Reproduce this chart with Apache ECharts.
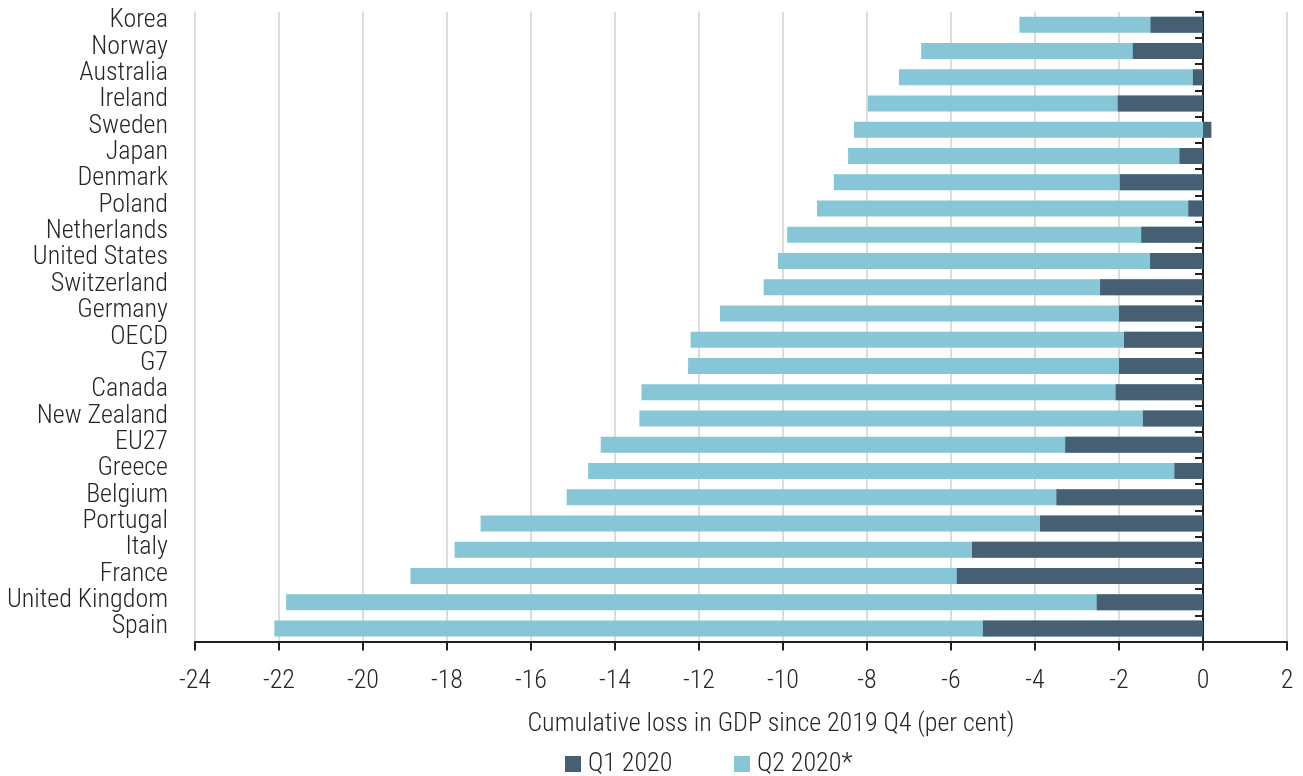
<!DOCTYPE html>
<html>
<head>
<meta charset="utf-8">
<script src="https://cdn.jsdelivr.net/npm/echarts@6/dist/echarts.min.js"></script>
<style>
html,body{margin:0;padding:0;background:#fff;}
#chart{width:1303px;height:776px;}
</style>
</head>
<body>
<div id="chart"></div>
<script>
var categories = ['Korea','Norway','Australia','Ireland','Sweden','Japan','Denmark','Poland','Netherlands','United States','Switzerland','Germany','OECD','G7','Canada','New Zealand','EU27','Greece','Belgium','Portugal','Italy','France','United Kingdom','Spain'];
var q1_2020 = [-1.25,-1.67,-0.24,-2.03,0.2,-0.56,-1.98,-0.35,-1.47,-1.26,-2.45,-2.0,-1.88,-2.0,-2.08,-1.43,-3.28,-0.68,-3.49,-3.88,-5.5,-5.86,-2.53,-5.24];
var q2_2020 = [-4.37,-6.71,-7.24,-7.98,-8.31,-8.45,-8.79,-9.19,-9.9,-10.12,-10.46,-11.5,-12.2,-12.26,-13.37,-13.42,-14.34,-14.64,-15.15,-17.2,-17.82,-18.87,-21.83,-22.11];
var seriesNames = ['Q1 2020','Q2 2020*'];
var axisTitle = 'Cumulative loss in GDP since 2019 Q4 (per cent)';

var FONT = "'Roboto Condensed','Liberation Sans Narrow','DejaVu Sans Condensed',sans-serif";
var FW = 300;
var TXT = '#262626';
var DARK = '#465f72';
var LIGHT = '#86c6d6';

var chart = echarts.init(document.getElementById('chart'), null, {renderer:'canvas'});
chart.setOption({
  animation:false,
  backgroundColor:'#ffffff',
  textStyle:{fontFamily:FONT, fontWeight:FW},
  grid:[
    {left:195, right:16, top:11.7, bottom:134.5, containLabel:false, outerBoundsMode:'none'},
    {left:195, right:16, top:7.7, bottom:136, containLabel:false, outerBoundsMode:'none'}
  ],
  xAxis:[{
    type:'value', gridIndex:0, min:-24, max:2, interval:2,
    axisLine:{show:true, onZero:false, lineStyle:{color:'#231f20', width:2}},
    axisTick:{show:true, length:9, lineStyle:{color:'#231f20', width:2}},
    axisLabel:{fontFamily:FONT, fontWeight:FW, fontSize:26, color:TXT, margin:27},
    splitLine:{show:true, lineStyle:{color:'#dcdcdc', width:2}}
  },{
    type:'value', gridIndex:1, min:-24, max:2, show:false
  }],
  yAxis:[{
    type:'category', gridIndex:0, data:categories, inverse:true, position:'left',
    axisLine:{show:true, onZero:true, lineStyle:{color:'#231f20', width:2}},
    axisTick:{show:true, length:8, lineStyle:{color:'#231f20', width:2}},
    axisLabel:{show:false}
  },{
    type:'category', gridIndex:1, data:categories, inverse:true, position:'left',
    axisLine:{show:false, onZero:false},
    axisTick:{show:false},
    splitLine:{show:false},
    axisLabel:{fontFamily:FONT, fontWeight:FW, fontSize:26, color:TXT, margin:27, interval:0}
  }],
  legend:[{
    data:[seriesNames[0]], left:565, top:751, padding:0, itemWidth:16, itemHeight:16, itemGap:8,
    icon:'rect', textStyle:{fontFamily:FONT, fontWeight:FW, fontSize:26, color:TXT, padding:[0,0,0,2]}
  },{
    data:[seriesNames[1]], left:734, top:751, padding:0, itemWidth:16, itemHeight:16, itemGap:8,
    icon:'rect', textStyle:{fontFamily:FONT, fontWeight:FW, fontSize:26, color:TXT, padding:[0,0,0,2]}
  }],
  graphic:[{
    type:'text', x:771, y:724,
    style:{text:axisTitle, fontFamily:FONT, fontWeight:FW, fontSize:26, fill:TXT, align:'center', verticalAlign:'middle'}
  }],
  series:[{
    name:seriesNames[1], type:'bar', xAxisIndex:0, yAxisIndex:0, data:q2_2020, barWidth:16, barGap:'-100%',
    itemStyle:{color:LIGHT}, z:2
  },{
    name:seriesNames[0], type:'bar', xAxisIndex:0, yAxisIndex:0, data:q1_2020, barWidth:16, barGap:'-100%',
    itemStyle:{color:DARK}, z:3
  }]
});
</script>
</body>
</html>
